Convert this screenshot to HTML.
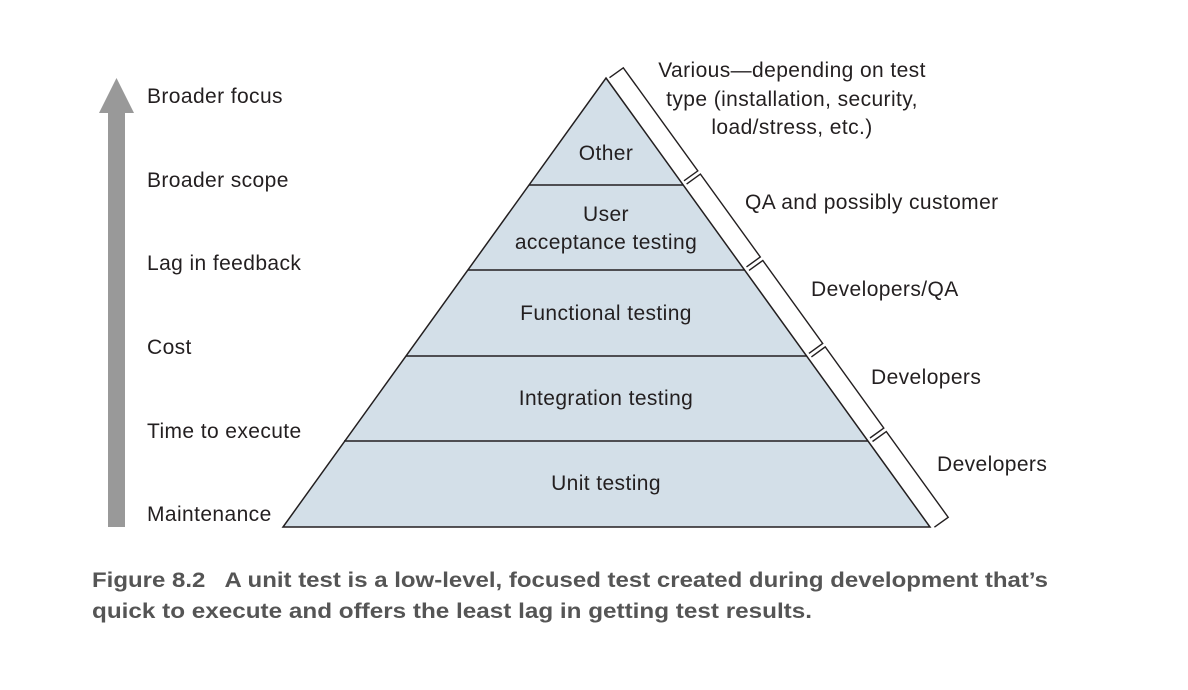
<!DOCTYPE html>
<html><head><meta charset="utf-8"><style>
html,body{margin:0;padding:0;background:#fff;}
svg{display:block;}
text{font-family:"Liberation Sans",Arial,sans-serif;fill:#231f20;font-size:21px;letter-spacing:0.4px;}
.c{font-weight:bold;fill:#555;font-size:21px;letter-spacing:0;}
</style></head><body>
<svg width="1188" height="690" viewBox="0 0 1188 690">
<rect x="108" y="112" width="17" height="415" fill="#999"/>
<polygon points="116.5,78 134,113 99,113" fill="#999"/>
<text x="147" y="103">Broader focus</text>
<text x="147" y="187">Broader scope</text>
<text x="147" y="270">Lag in feedback</text>
<text x="147" y="354">Cost</text>
<text x="147" y="438">Time to execute</text>
<text x="147" y="521">Maintenance</text>
<polygon points="606,78 930,527 283,527" fill="#d3dfe8" stroke="#231f20" stroke-width="1.5"/>
<g stroke="#231f20" stroke-width="1.5">
<line x1="529" y1="185" x2="683" y2="185"/>
<line x1="468" y1="270" x2="745" y2="270"/>
<line x1="406" y1="356" x2="807" y2="356"/>
<line x1="344" y1="441" x2="868" y2="441"/>
</g>
<g fill="none" stroke="#231f20" stroke-width="1.4">
<polyline points="609.5,77.7 623.3,67.8 697.8,170.9 684.0,180.8"/>
<polyline points="686.6,184.1 700.4,174.1 760.3,257.0 746.5,266.9"/>
<polyline points="749.0,270.4 762.8,260.5 822.7,343.5 808.9,353.4"/>
<polyline points="811.4,356.9 825.2,346.9 883.8,428.1 870.0,438.0"/>
<polyline points="872.5,441.5 886.3,431.6 948.2,517.3 934.4,527.2"/>
</g>
<g text-anchor="middle">
<text x="606" y="160">Other</text>
<text x="606" y="221">User</text>
<text x="606" y="249">acceptance testing</text>
<text x="606" y="320">Functional testing</text>
<text x="606" y="405">Integration testing</text>
<text x="606" y="490">Unit testing</text>
<text x="792" y="77">Various—depending on test</text>
<text x="792" y="106">type (installation, security,</text>
<text x="792" y="134">load/stress, etc.)</text>
</g>
<text x="745" y="209">QA and possibly customer</text>
<text x="811" y="296">Developers/QA</text>
<text x="871" y="384">Developers</text>
<text x="937" y="471">Developers</text>
<text class="c" x="92" y="587" textLength="956" lengthAdjust="spacingAndGlyphs">Figure 8.2&#160;&#160; A unit test is a low-level, focused test created during development that’s</text>
<text class="c" x="92" y="618" textLength="720" lengthAdjust="spacingAndGlyphs">quick to execute and offers the least lag in getting test results.</text>
</svg>
</body></html>
